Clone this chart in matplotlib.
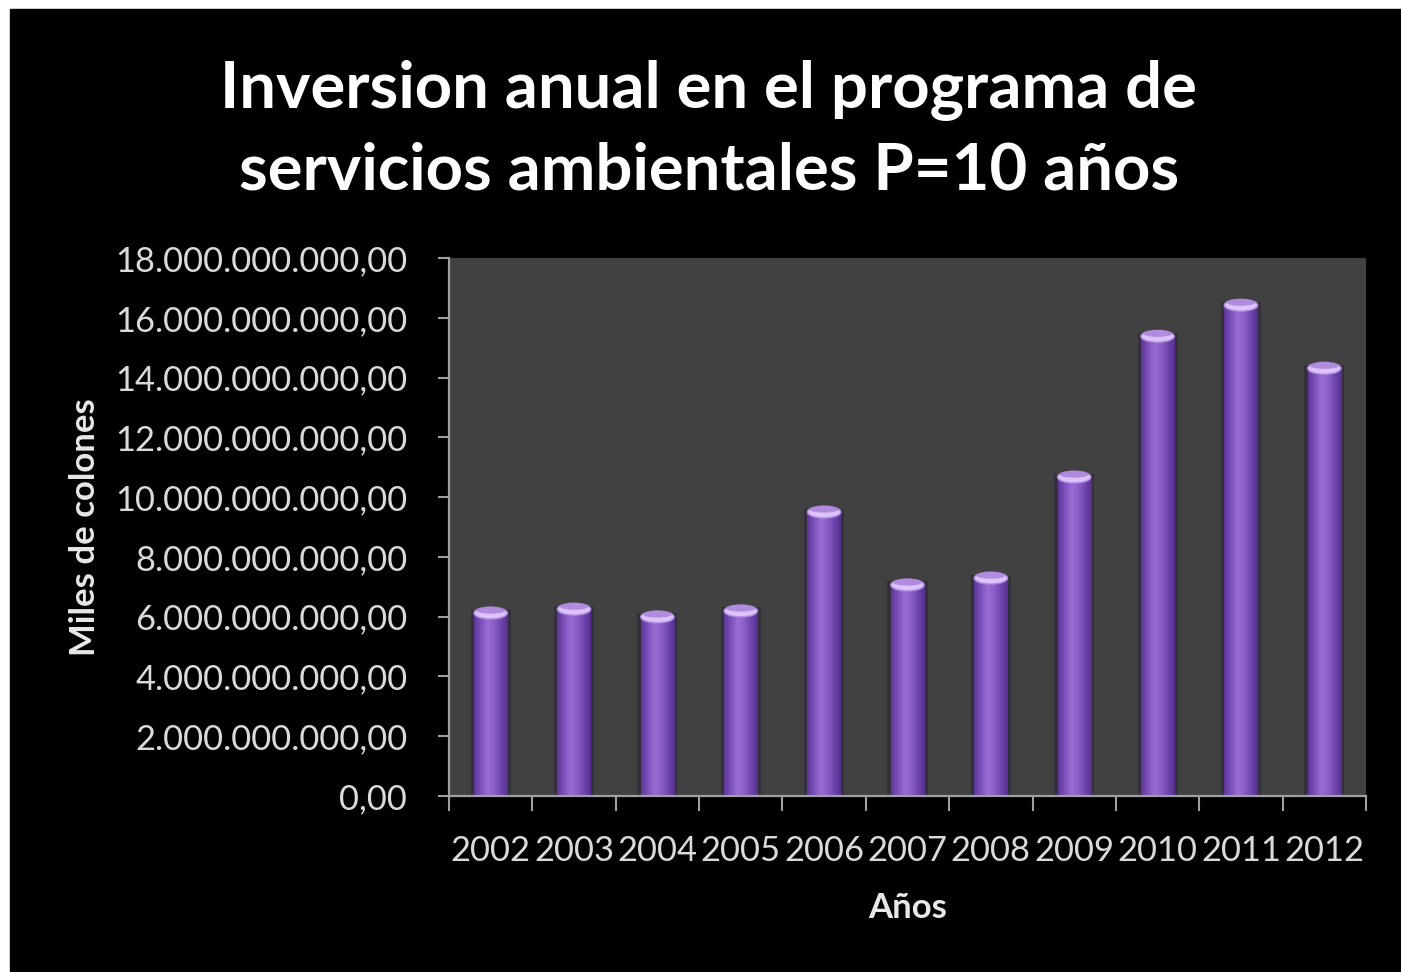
import numpy as np
import matplotlib
matplotlib.use("Agg")
import matplotlib.pyplot as plt
from matplotlib.patches import Rectangle, Ellipse
from matplotlib.colors import LinearSegmentedColormap
from matplotlib.ticker import FuncFormatter, MultipleLocator

# ------------------------------------------------------------
# Datos: inversion anual (miles de colones)
# ------------------------------------------------------------
anios = ["2002", "2003", "2004", "2005", "2006", "2007",
         "2008", "2009", "2010", "2011", "2012"]
inversion = [6.12e9, 6.25e9, 5.99e9, 6.19e9, 9.50e9, 7.06e9,
             7.29e9, 10.67e9, 15.38e9, 16.42e9, 14.31e9]

titulo_1 = "Inversion anual en el programa de"
titulo_2 = "servicios ambientales P=10 años"
eje_y = "Miles de colones"
eje_x = "Años"

plt.rcParams['font.family'] = ['Lato', 'DejaVu Sans']

fig = plt.figure(figsize=(14.01, 9.72), dpi=100)
fig.patch.set_facecolor("white")
# fondo negro de la diapositiva
fig.patches.append(Rectangle((10 / 1401, 0), 1, 1 - 9 / 972,
                             transform=fig.transFigure, color="black", zorder=-5))

ax = fig.add_axes([449 / 1401, 1 - 796 / 972, (1366 - 449) / 1401, (796 - 258) / 972])
ax.set_facecolor("#414141")

ymax = 18e9

# cilindros con degradado horizontal
cmap = LinearSegmentedColormap.from_list(
    "cil", ["#5e3898", "#7c50bc", "#9a6cd2", "#8c5ec8", "#7046ae", "#55308c"])
grad = np.linspace(0, 1, 64).reshape(1, -1)
ancho = 0.4
tapa = 0.022 * ymax
x = np.arange(len(anios))
for xi, v in zip(x, inversion):
    # sombra suave alrededor de la columna
    ax.add_patch(Rectangle((xi - ancho * 0.6, 0), ancho * 1.2, v + tapa * 0.3,
                           facecolor="#2a1c3c", edgecolor="none", alpha=0.45, zorder=1))
    rect = Rectangle((xi - ancho / 2, 0), ancho, v, facecolor="none",
                     edgecolor="none", transform=ax.transData)
    ax.add_patch(rect)
    im = ax.imshow(grad, cmap=cmap, aspect="auto", interpolation="bicubic",
                   extent=(xi - ancho / 2, xi + ancho / 2, 0, v), zorder=2)
    im.set_clip_path(rect)
    ax.add_patch(Ellipse((xi, v), ancho, tapa, facecolor="#dcc4fa",
                         edgecolor="#b08ae0", linewidth=1, zorder=3))
    ax.add_patch(Ellipse((xi, v + tapa * 0.2), ancho * 0.85, tapa * 0.5,
                         facecolor="#a77fd8", edgecolor="none", alpha=0.8, zorder=3))
ax.set_xlim(-0.5, len(anios) - 0.5)
ax.set_ylim(0, ymax)

# ejes
for lado in ["top", "right"]:
    ax.spines[lado].set_visible(False)
for lado in ["left", "bottom"]:
    ax.spines[lado].set_color("#a0a0a0")
    ax.spines[lado].set_linewidth(1.6)


def fmt_miles(v, pos):
    s = f"{v:,.2f}"
    return s.replace(",", "X").replace(".", ",").replace("X", ".")


ax.yaxis.set_major_locator(MultipleLocator(2e9))
ax.yaxis.set_major_formatter(FuncFormatter(fmt_miles))
ax.tick_params(axis="y", colors="#a0a0a0", labelcolor="#dadada",
               length=8, width=1.5, pad=22, labelsize=24.8)

ax.set_xticks(x)
ax.set_xticklabels(anios)
ax.set_xticks(np.arange(-0.5, len(anios)), minor=True)
ax.tick_params(axis="x", which="major", length=0, pad=28,
               labelcolor="#dadada", labelsize=24.8)
ax.tick_params(axis="x", which="minor", length=11, width=1.5, colors="#a0a0a0")

ax.set_ylabel(eje_y, color="#e8e8e8", fontsize=25, fontweight="bold", va="center")
ax.yaxis.set_label_coords((85 - 449) / 917, 0.5)
ax.set_xlabel(eje_x, color="#e8e8e8", fontsize=25, fontweight="bold", va="center")
ax.xaxis.set_label_coords(0.5, (796 - 908) / 538)

fig.text(0.506, 1 - 108 / 972, titulo_1, color="white", fontsize=47,
         fontweight="bold", ha="center", va="baseline")
fig.text(0.506, 1 - 189 / 972, titulo_2, color="white", fontsize=47,
         fontweight="bold", ha="center", va="baseline")

fig.savefig("out.png", dpi=100, facecolor=fig.get_facecolor())
